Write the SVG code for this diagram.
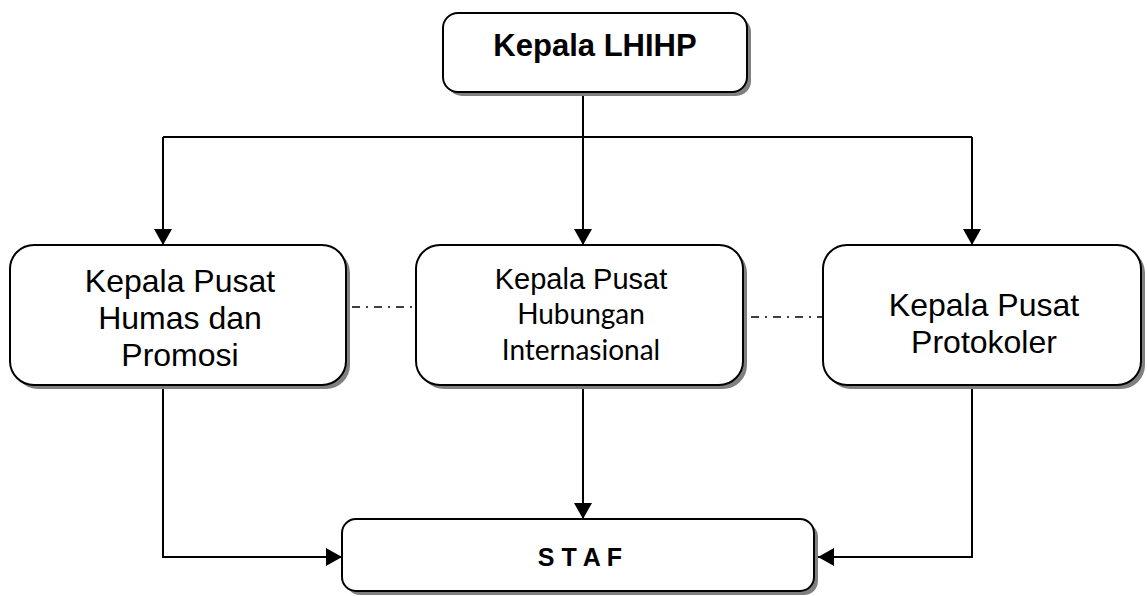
<svg xmlns="http://www.w3.org/2000/svg" width="1147" height="596" viewBox="0 0 1147 596">
<style>
.box{fill:#fff;stroke:#000;stroke-width:2}
.shadow{fill:#808080}
.ln{fill:none;stroke:#000;stroke-width:2}
.dash{fill:none;stroke:#000;stroke-width:1.5;stroke-dasharray:8,6,2,6}
.t{font-family:"Liberation Sans",Arial,sans-serif;fill:#000;text-anchor:middle}
.c{font-family:Lato,"Liberation Sans",sans-serif;fill:#000;text-anchor:middle}
</style>
<defs>
<marker id="arr" viewBox="0 0 16 18" refX="16" refY="9" markerWidth="16" markerHeight="18" markerUnits="userSpaceOnUse" orient="auto">
<path d="M0,0 L16,9 L0,18 Z" fill="#000"/>
</marker>
</defs>
<g id="connectors">
<path class="ln" d="M583,92 V137"/>
<path class="ln" d="M163,137 H972"/>
<path class="ln" d="M163,137 V245" marker-end="url(#arr)"/>
<path class="ln" d="M583,137 V245" marker-end="url(#arr)"/>
<path class="ln" d="M972,137 V245" marker-end="url(#arr)"/>
<path class="ln" d="M163,385 V557 H342" marker-end="url(#arr)"/>
<path class="ln" d="M583,385 V519" marker-end="url(#arr)"/>
<path class="ln" d="M972,385 V557 H818" marker-end="url(#arr)"/>
<path class="dash" d="M352,307 H416"/>
<path class="dash" d="M751,317 H823"/>
</g>
<g id="kepala-lhihp">
<rect class="shadow" x="447" y="17" width="304" height="79" rx="15"/>
<rect class="box" x="443" y="13" width="304" height="79" rx="15"/>
<text class="t" x="595" y="56" font-size="31" font-weight="bold">Kepala LHIHP</text>
</g>
<g id="humas">
<rect class="shadow" x="14" y="249" width="336" height="140" rx="24"/>
<rect class="box" x="10" y="245" width="336" height="140" rx="24"/>
<text class="t" x="180" y="292" font-size="32">Kepala Pusat</text>
<text class="t" x="180" y="329" font-size="32">Humas dan</text>
<text class="t" x="180" y="366" font-size="32">Promosi</text>
</g>
<g id="hubungan">
<rect class="shadow" x="420" y="249" width="327" height="140" rx="24"/>
<rect class="box" x="416" y="245" width="327" height="140" rx="24"/>
<text class="t" x="581" y="289" font-size="29">Kepala Pusat</text>
<text class="c" x="581" y="324" font-size="28">Hubungan</text>
<text class="c" x="581" y="360" font-size="28">Internasional</text>
</g>
<g id="protokoler">
<rect class="shadow" x="827" y="249" width="318" height="140" rx="24"/>
<rect class="box" x="823" y="245" width="318" height="140" rx="24"/>
<text class="t" x="984" y="316" font-size="32">Kepala Pusat</text>
<text class="t" x="984" y="353" font-size="32">Protokoler</text>
</g>
<g id="staf">
<rect class="shadow" x="346" y="523" width="472" height="72" rx="14"/>
<rect class="box" x="342" y="519" width="472" height="72" rx="14"/>
<text class="t" x="580" y="566" font-size="25" font-weight="bold">S T A F</text>
</g>
</svg>
